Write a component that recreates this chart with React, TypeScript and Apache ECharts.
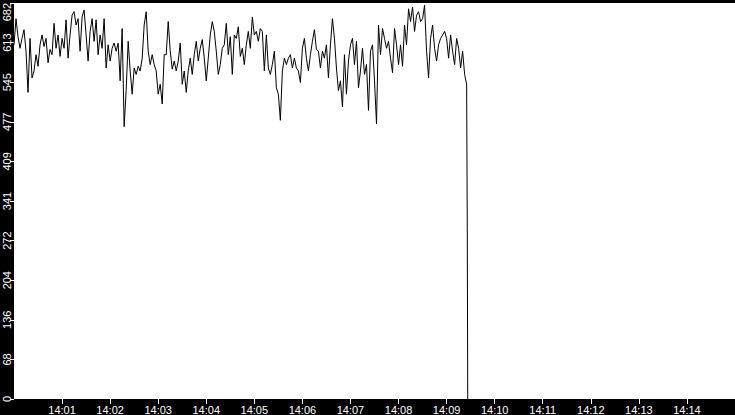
import React, { useEffect, useRef } from 'react';
import * as echarts from 'echarts';

// x axis: seconds of the day, 14:00 .. 14:15, samples every 2.5 s
const startSeconds = 14 * 3600;
const endSeconds = startSeconds + 15 * 60;
const stepSeconds = 2.5;

const yMax = 682;
const yInterval = 68.2;

// values, one run per ~95 s
const run1 = [610, 655, 624, 604, 621, 636, 599, 528, 621, 553, 565, 593, 573, 610, 627, 607, 621, 579, 602, 593, 647, 604, 627, 590, 621, 604, 653, 587, 627, 661, 667, 644, 655, 599, 658, 670, 627, 582];
const run2 = [633, 655, 616, 653, 593, 627, 604, 655, 570, 610, 582, 604, 613, 599, 613, 548, 638, 469, 531, 616, 565, 525, 570, 559, 573, 565, 587, 644, 667, 599, 576, 593, 576, 565, 525, 542, 508, 593];
const run3 = [593, 650, 600, 568, 582, 565, 582, 613, 542, 565, 528, 565, 587, 559, 593, 616, 582, 604, 619, 587, 548, 587, 627, 650, 633, 599, 559, 576, 604, 610, 647, 593, 624, 559, 627, 621, 641, 590];
const run4 = [604, 576, 610, 633, 604, 658, 627, 633, 616, 638, 633, 565, 627, 570, 559, 576, 599, 536, 525, 480, 565, 587, 576, 587, 593, 570, 587, 570, 565, 545, 604, 621, 587, 565, 593, 616, 636, 602];
const run5 = [599, 570, 599, 587, 610, 553, 610, 655, 621, 570, 531, 548, 503, 593, 525, 582, 610, 621, 576, 616, 536, 565, 604, 559, 576, 497, 599, 610, 548, 474, 644, 593, 638, 621, 604, 616, 587, 562];
const run6 = [638, 610, 576, 610, 573, 644, 610, 672, 650, 675, 633, 661, 667, 650, 655, 678, 599, 553, 621, 644, 604, 582, 610, 621, 627, 633, 621, 587, 627, 599, 576, 621, 604, 570, 599, 559, 542];
// the feed stops: last two readings, with their own times (s after 14:00)
const dropTimes = [565.8, 566.4];
const dropValues = [296, 0];

const pad = (n: number) => (n < 10 ? '0' + n : String(n));
const clock = (s: number) => `${pad(Math.floor(s / 3600))}:${pad(Math.floor((s % 3600) / 60))}`;

const App: React.FC = () => {
  const chartRef = useRef<HTMLDivElement>(null);

  useEffect(() => {
    const chart = echarts.init(chartRef.current!, null, { renderer: 'svg' });

    const values = [...run1, ...run2, ...run3, ...run4, ...run5, ...run6];
    const points = values.map((v, i) => [startSeconds + i * stepSeconds, v]);
    dropValues.forEach((v, i) => points.push([startSeconds + dropTimes[i], v]));

    const font = { color: '#fff', fontFamily: 'Liberation Sans, Arial, sans-serif', fontSize: 11 };

    chart.setOption({
      animation: false,
      backgroundColor: '#000',
      grid: {
        show: true,
        left: 14,
        right: 0,
        top: -2,
        bottom: 15,
        backgroundColor: '#fff',
        borderWidth: 0,
      },
      xAxis: {
        type: 'value',
        min: startSeconds,
        max: endSeconds,
        interval: 60,
        axisLine: { show: false },
        axisTick: { show: true, length: 5, lineStyle: { color: '#fff', width: 1 } },
        splitLine: { show: false },
        axisLabel: {
          ...font,
          margin: 5,
          showMinLabel: false,
          showMaxLabel: false,
          formatter: (v: number) => clock(v),
        },
      },
      yAxis: {
        type: 'value',
        min: 0,
        max: yMax,
        interval: yInterval,
        axisLine: { show: false },
        axisTick: { show: true, length: 4, lineStyle: { color: '#fff', width: 1 } },
        splitLine: { show: false },
        axisLabel: {
          ...font,
          rotate: 90,
          margin: 2,
          alignMaxLabel: 'right',
          formatter: (v: number) => String(Math.floor(v + 1e-6)),
        },
      },
      series: [
        {
          type: 'line',
          data: points,
          showSymbol: false,
          lineStyle: { color: '#000', width: 1 },
        },
      ],
    });

    return () => {
      chart.dispose();
    };
  }, []);

  return (
    <div
      ref={chartRef}
      style={{ position: 'fixed', left: 0, top: 0, width: '735px', height: '415px' }}
    />
  );
};

export default App;
